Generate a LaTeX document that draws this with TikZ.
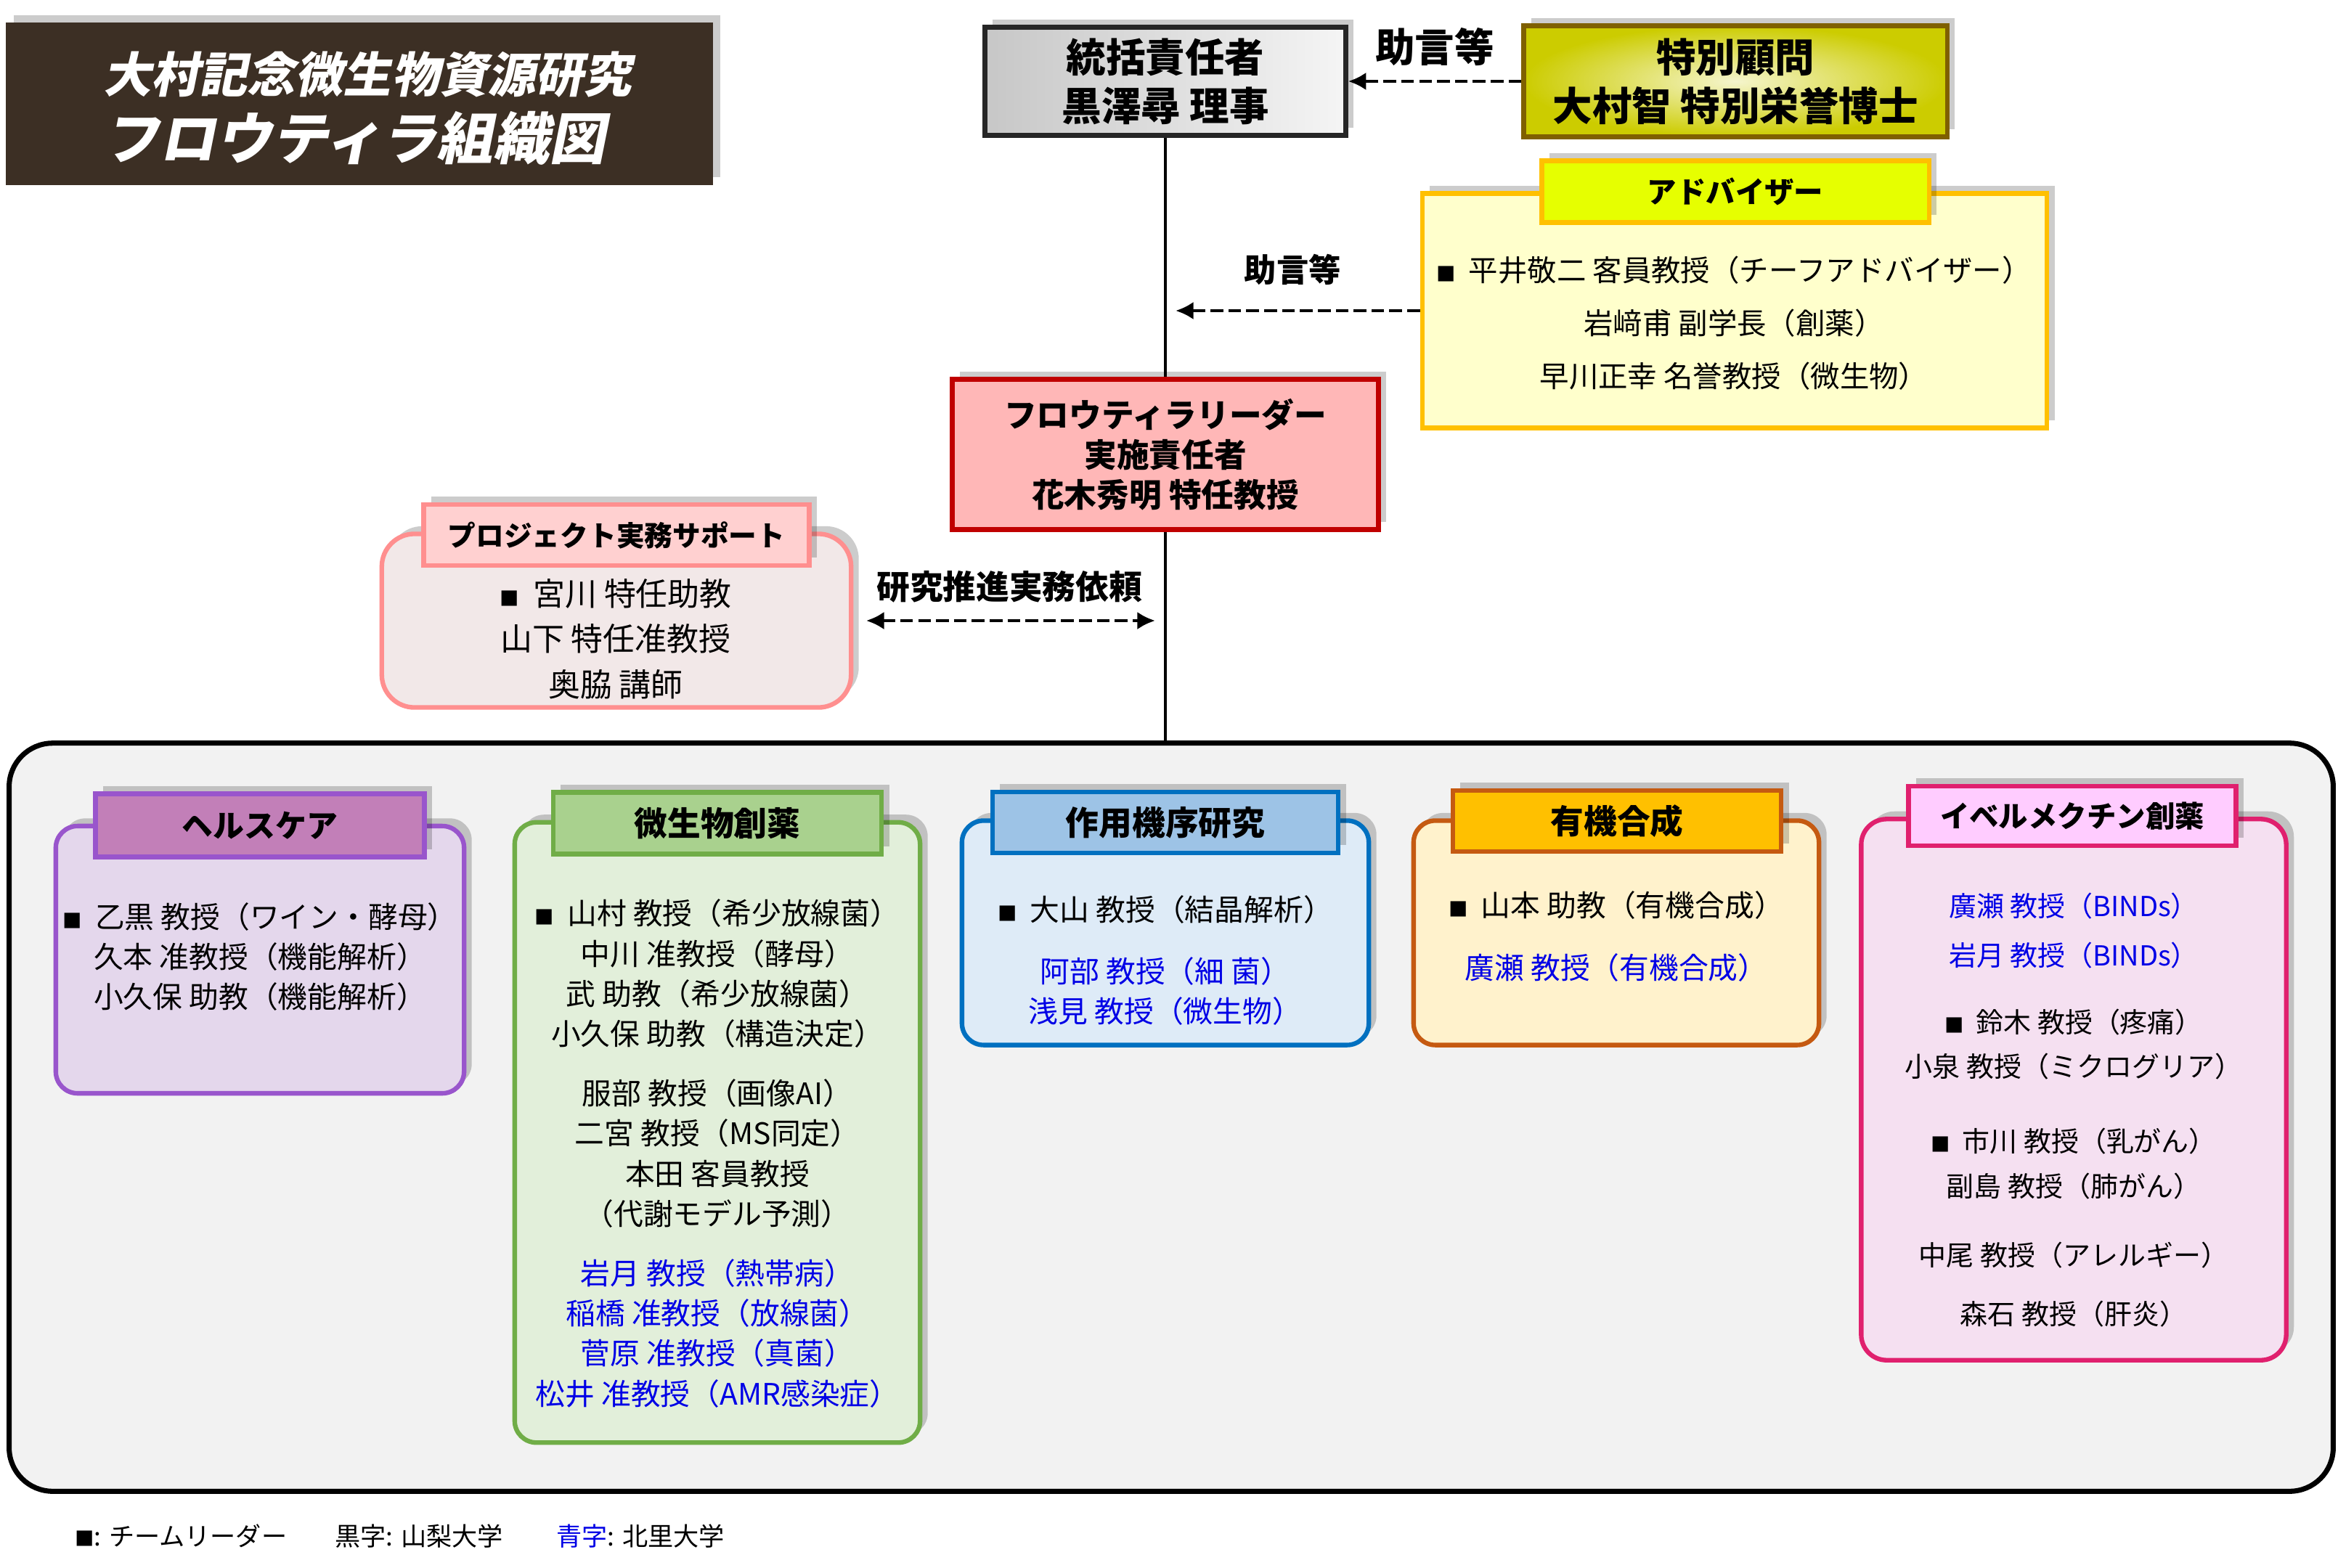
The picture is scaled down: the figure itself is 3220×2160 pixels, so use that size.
\documentclass[tikz,border=0pt]{standalone}
\usepackage{fontspec}
\setmainfont{Noto Sans CJK JP}
\newfontfamily\titlefont[FakeSlant=0.2]{Noto Sans CJK JP}
\usepackage{tikz}
\usetikzlibrary{arrows.meta,shadows}

\definecolor{titlebrown}{RGB}{60,47,36}
\definecolor{sogoline}{RGB}{38,38,38}
\definecolor{tokuline}{RGB}{127,96,0}
\definecolor{tokuouter}{RGB}{204,204,0}
\definecolor{tokuinner}{RGB}{245,245,205}
\definecolor{advline}{RGB}{255,192,0}
\definecolor{advfill}{RGB}{255,255,204}
\definecolor{advtabfill}{RGB}{230,255,0}
\definecolor{leadline}{RGB}{192,0,0}
\definecolor{leadfill}{RGB}{255,183,183}
\definecolor{projline}{RGB}{255,143,143}
\definecolor{projfill}{RGB}{242,232,232}
\definecolor{projtabfill}{RGB}{255,208,208}
\definecolor{panelgray}{RGB}{242,242,242}
\definecolor{hcline}{RGB}{153,85,204}
\definecolor{hcfill}{RGB}{228,215,236}
\definecolor{hctabfill}{RGB}{194,127,184}
\definecolor{mbline}{RGB}{112,173,71}
\definecolor{mbfill}{RGB}{226,239,218}
\definecolor{mbtabfill}{RGB}{169,209,142}
\definecolor{mcline}{RGB}{0,112,192}
\definecolor{mcfill}{RGB}{222,235,247}
\definecolor{mctabfill}{RGB}{157,195,230}
\definecolor{ogline}{RGB}{197,90,17}
\definecolor{ogfill}{RGB}{255,242,204}
\definecolor{ogtabfill}{RGB}{255,192,0}
\definecolor{ivline}{RGB}{224,32,110}
\definecolor{ivfill}{RGB}{245,224,241}
\definecolor{ivtabfill}{RGB}{255,204,255}
\definecolor{kitablue}{RGB}{0,0,230}

\newcommand{\tlmark}{{\fontsize{7.5}{7.5}\selectfont ■}\hspace{0.45em}}
\newcommand{\kita}[1]{\textcolor{kitablue}{#1}}

\tikzset{
  orgbox/.style={draw, line width=1.8pt, inner sep=0pt, align=center},
  boxshadow/.style={drop shadow={shadow xshift=3pt,shadow yshift=3pt,opacity=0.2,fill=black}},
  teambox/.style={orgbox, rounded corners=0.3cm, boxshadow},
  teamtab/.style={orgbox, boxshadow, font=\fontsize{13}{15}\selectfont\bfseries},
  member/.style={align=center, inner sep=0pt, font=\fontsize{11.6}{15.7}\selectfont},
  topfont/.style={font=\fontsize{15.5}{19}\selectfont\bfseries},
  advice/.style={line width=1.3pt, dash pattern=on 5pt off 2pt, -{Latex[length=7pt,width=7pt]}},
  trunk/.style={line width=1.3pt}
}

\begin{document}
\begin{tikzpicture}[x=0.01cm,y=-0.01cm]
  \path[fill=white, use as bounding box] (0,0) rectangle (3220,2160);

  % title
  \node[orgbox, draw=none, fill=titlebrown, minimum width=9.73cm, minimum height=2.23cm, boxshadow] (title) at (495,143) {};
  \node[anchor=west, text=white, font=\titlefont\bfseries\fontsize{18.8}{20}\selectfont] (titleup) at (130,103) {大村記念微生物資源研究};
  \node[anchor=west, text=white, font=\titlefont\bfseries\fontsize{22}{24}\selectfont] (titledown) at (130,190) {フロウティラ組織図};

  % top of the tree
  \node[orgbox, draw=sogoline, left color=black!22, right color=black!4, minimum width=4.97cm, minimum height=1.49cm, topfont, boxshadow] (sogatsu) at (1605,112) {統括責任者\\黒澤尋 理事};
  \node[orgbox, draw=tokuline, inner color=tokuinner, outer color=tokuouter, minimum width=5.83cm, minimum height=1.53cm, topfont, boxshadow] (tokubetsu) at (2390,112) {特別顧問\\大村智 特別栄誉博士};

  % advisers
  \node[orgbox, draw=advline, fill=advfill, minimum width=8.6cm, minimum height=3.23cm, boxshadow] (advbox) at (2389,428) {};
  \node[orgbox, draw=advline, fill=advtabfill, minimum width=5.33cm, minimum height=0.85cm, font=\fontsize{11.5}{13}\selectfont\bfseries, boxshadow] (advtab) at (2390,264) {アドバイザー};
  \node[member, font=\fontsize{11.5}{20.8}\selectfont] (advtext) at (2388,445) {\tlmark 平井敬二 客員教授（チーフアドバイザー）\\岩﨑甫 副学長（創薬）\\早川正幸 名誉教授（微生物）};

  % leader
  \node[orgbox, draw=leadline, fill=leadfill, line width=2pt, minimum width=5.86cm, minimum height=2.07cm, font=\fontsize{12.7}{15.6}\selectfont\bfseries, boxshadow] (lead) at (1605,626) {フロウティラリーダー\\実施責任者\\花木秀明 特任教授};

  % project support
  \node[orgbox, draw=projline, fill=projfill, rounded corners=0.45cm, minimum width=6.46cm, minimum height=2.39cm, boxshadow] (projbox) at (849,855) {};
  \node[orgbox, draw=projline, fill=projtabfill, minimum width=5.31cm, minimum height=0.84cm, font=\fontsize{11}{13}\selectfont\bfseries, boxshadow] (projtab) at (849,737) {プロジェクト実務サポート};
  \node[member, font=\fontsize{12.5}{17.8}\selectfont] (projtext) at (848,880) {\tlmark 宮川 特任助教\\山下 特任准教授\\奥脇 講師};

  % team panel
  \node[orgbox, draw=black, fill=panelgray, line width=2pt, rounded corners=0.6cm, minimum width=31.99cm, minimum height=10.3cm] (panel) at (1613,1539) {};

  % connectors
  \draw[trunk] (sogatsu.south) -- (lead.north);
  \draw[trunk] (lead.south) -- (lead.south |- panel.north);
  \draw[advice] (tokubetsu.west) -- (sogatsu.east)
    node[midway, above=2pt, font=\fontsize{15.5}{17}\selectfont\bfseries] (advicetop) {助言等};
  \draw[advice, shorten >=4pt] (advbox.west) -- (advbox.west -| sogatsu.south)
    node[midway, above=6pt, font=\fontsize{12.6}{14}\selectfont\bfseries] (advicemid) {助言等};
  \draw[advice, {Latex[length=7pt,width=7pt]}-{Latex[length=7pt,width=7pt]}, shorten <=5pt, shorten >=4pt] (projbox.east) -- (projbox.east -| lead.south)
    node[midway, above=3pt, font=\fontsize{13}{15}\selectfont\bfseries] (request) {研究推進実務依頼};

  % healthcare
  \node[teambox, draw=hcline, fill=hcfill, minimum width=5.62cm, minimum height=3.68cm] (hcbox) at (358,1322) {};
  \node[teamtab, draw=hcline, fill=hctabfill, minimum width=4.53cm, minimum height=0.87cm, font=\fontsize{12.2}{14}\selectfont\bfseries] (hctab) at (358,1137) {ヘルスケア};
  \node[member] (hctext) at (358,1318) {\tlmark 乙黒 教授（ワイン・酵母）\\久本 准教授（機能解析）\\小久保 助教（機能解析）};

  % microbial drug discovery
  \node[teambox, draw=mbline, fill=mbfill, minimum width=5.58cm, minimum height=8.54cm] (mbbox) at (988,1560) {};
  \node[teamtab, draw=mbline, fill=mbtabfill, minimum width=4.52cm, minimum height=0.85cm] (mbtab) at (988,1134) {微生物創薬};
  \node[member] (mbtext) at (988,1589) {\tlmark 山村 教授（希少放線菌）\\中川 准教授（酵母）\\武 助教（希少放線菌）\\小久保 助教（構造決定）\\[0.27cm]
    服部 教授（画像AI）\\二宮 教授（MS同定）\\本田 客員教授\\（代謝モデル予測）\\[0.27cm]
    \kita{岩月 教授（熱帯病）}\\\kita{稲橋 准教授（放線菌）}\\\kita{菅原 准教授（真菌）}\\\kita{松井 准教授（AMR感染症）}};

  % mechanism of action
  \node[teambox, draw=mcline, fill=mcfill, minimum width=5.6cm, minimum height=3.09cm] (mcbox) at (1605,1285) {};
  \node[teamtab, draw=mcline, fill=mctabfill, minimum width=4.76cm, minimum height=0.84cm] (mctab) at (1605,1133) {作用機序研究};
  \node[member] (mctext) at (1605,1323) {\tlmark 大山 教授（結晶解析）\\[0.3cm]\kita{阿部 教授（細 菌）}\\\kita{浅見 教授（微生物）}};

  % organic synthesis
  \node[teambox, draw=ogline, fill=ogfill, minimum width=5.58cm, minimum height=3.09cm] (ogbox) at (2226,1285) {};
  \node[teamtab, draw=ogline, fill=ogtabfill, minimum width=4.52cm, minimum height=0.84cm] (ogtab) at (2227,1131) {有機合成};
  \node[member] (ogtext) at (2226,1290) {\tlmark 山本 助教（有機合成）\\[0.31cm]\kita{廣瀬 教授（有機合成）}};

  % ivermectin drug discovery
  \node[teambox, draw=ivline, fill=ivfill, rounded corners=0.35cm, minimum width=5.85cm, minimum height=7.45cm] (ivbox) at (2856,1501) {};
  \node[teamtab, draw=ivline, fill=ivtabfill, minimum width=4.51cm, minimum height=0.82cm, font=\fontsize{11.5}{13}\selectfont\bfseries] (ivtab) at (2854,1124) {イベルメクチン創薬};
  \node[member, font=\fontsize{10.8}{17.6}\selectfont] (ivtext) at (2856,1529) {\kita{廣瀬 教授（BINDs）}\\[0.06cm]\kita{岩月 教授（BINDs）}\\[0.3cm]
    \tlmark 鈴木 教授（疼痛）\\小泉 教授（ミクログリア）\\[0.41cm]
    \tlmark 市川 教授（乳がん）\\副島 教授（肺がん）\\[0.33cm]
    中尾 教授（アレルギー）\\[0.19cm]森石 教授（肝炎）};

  % legend
  \node[anchor=west, font=\fontsize{10}{12}\selectfont] (keyleader) at (91,2116) {{\fontsize{7.5}{7.5}\selectfont ■}: チームリーダー};
  \node[anchor=west, font=\fontsize{10}{12}\selectfont] (keyblack) at (449,2116) {黒字: 山梨大学};
  \node[anchor=west, font=\fontsize{10}{12}\selectfont] (keyblue) at (754,2116) {\kita{青字}: 北里大学};
\end{tikzpicture}
\end{document}
